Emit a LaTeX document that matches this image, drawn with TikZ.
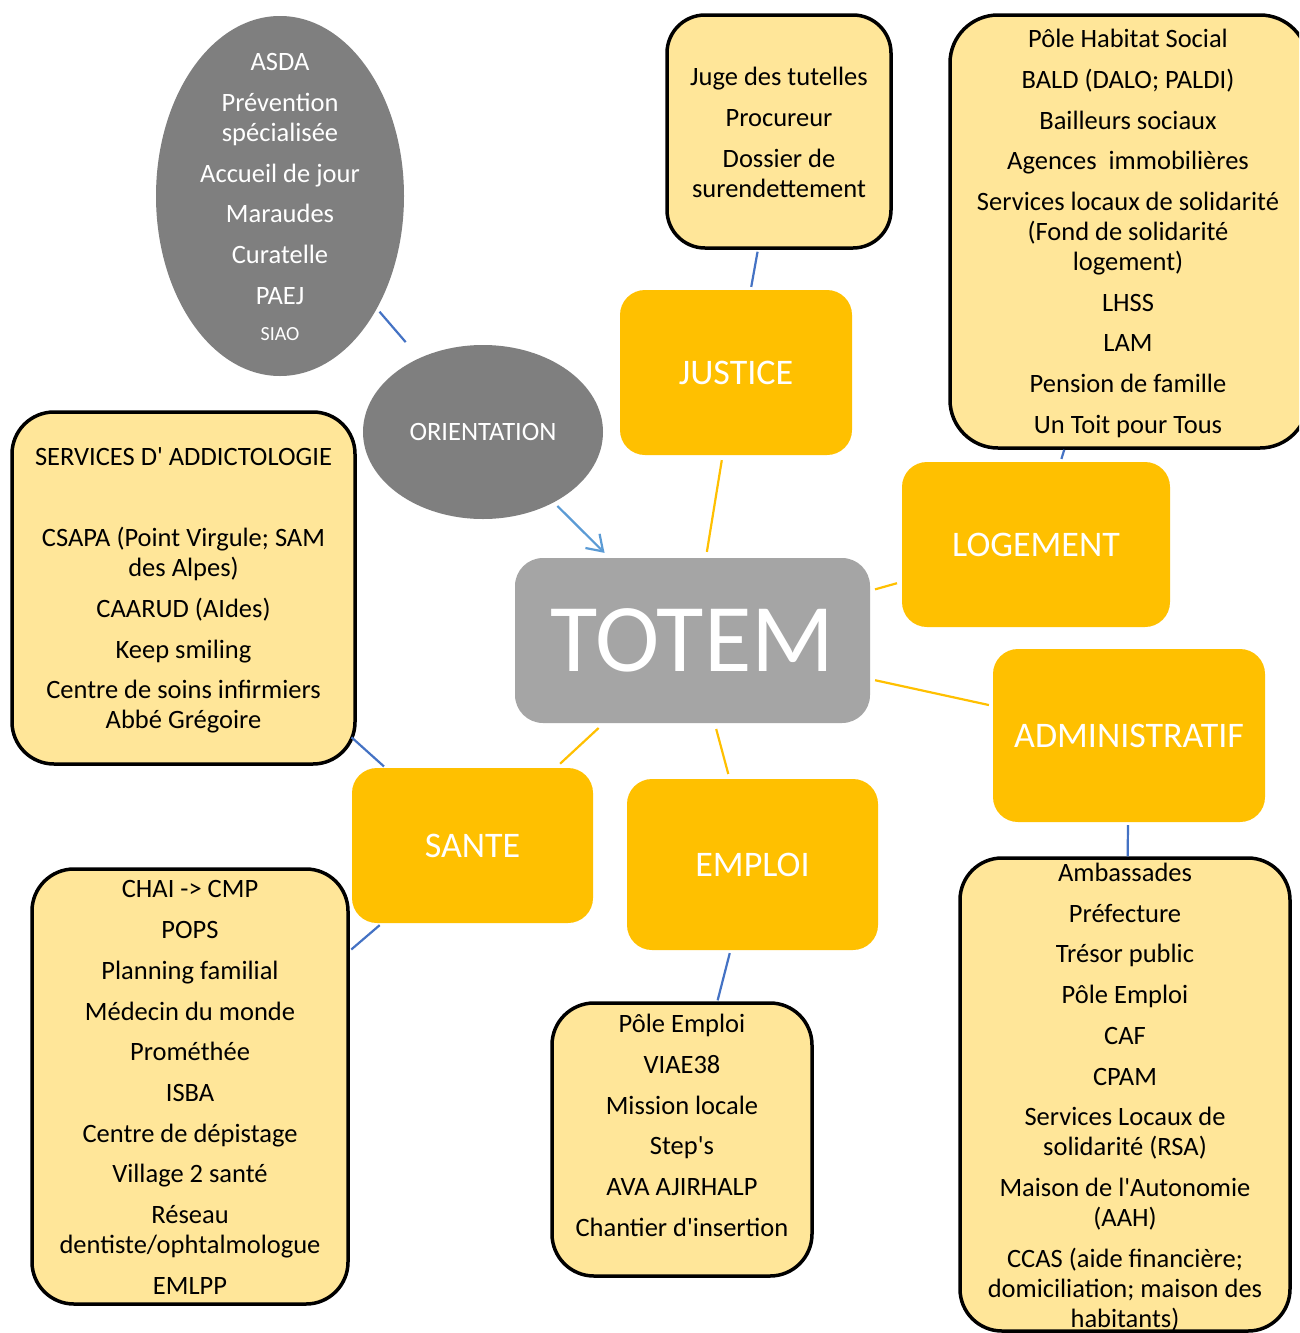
\documentclass[tikz,border=0pt]{standalone}
\usepackage{fontspec}
\setmainfont{Carlito}
\usetikzlibrary{shapes.geometric,arrows.meta}
\definecolor{gold}{HTML}{FFC000}
\definecolor{pale}{HTML}{FFE699}
\definecolor{darkg}{HTML}{7F7F7F}
\definecolor{midg}{HTML}{A5A5A5}
\definecolor{blueln}{HTML}{4472C4}
\definecolor{bluear}{HTML}{5B9BD5}
\newcommand{\ig}{\\[10.7pt]}
\newcommand{\myq}{\textquotesingle}
\begin{document}
\begin{tikzpicture}[x=1pt,y=-1pt,
 cat/.style={rectangle,rounded corners=25pt,fill=gold,inner sep=0pt,text=white,font=\fontsize{36}{40}\selectfont},
 listbox/.style={rectangle,rounded corners=42pt,draw=black,line width=3.5pt,fill=pale,inner sep=0pt},
 listtxt/.style={align=center,inner sep=0pt,font=\fontsize{26.5}{30}\selectfont},
 bl/.style={draw=blueln,line width=2.2pt},
 yl/.style={draw=gold,line width=2.2pt},
 gell/.style={ellipse,fill=darkg,inner sep=0pt},
]
\useasboundingbox (0,0) rectangle (1299,1333);
\clip (0,0) rectangle (1299,1333);
\fill[white] (0,0) rectangle (1299,1333);

% gray ellipses
\node[gell,minimum width=248pt,minimum height=360pt] (ell1) at (280,196) {};
\node[listtxt,text=white] (ell1t) at (280,197) {ASDA\ig Prévention\\spécialisée\ig Accueil de jour\ig Maraudes\ig Curatelle\ig PAEJ\\[6pt]{\fontsize{20}{24}\selectfont SIAO}};
\node[gell,minimum width=240pt,minimum height=174pt,text=white,font=\fontsize{26.5}{30}\selectfont] (orient) at (483,432) {ORIENTATION};

% centre
\node[rectangle,rounded corners=28pt,fill=midg,inner sep=0pt,minimum width=355pt,minimum height=165pt,text=white,font=\fontsize{97}{100}\selectfont] (totem) at (692.5,640.5) {TOTEM};

% categories
\node[cat,minimum width=232pt,minimum height=165pt] (justice) at (736,372.5) {JUSTICE};
\node[cat,minimum width=268pt,minimum height=165pt] (logement) at (1036,544.5) {LOGEMENT};
\node[cat,minimum width=272pt,minimum height=173pt] (admin) at (1129,735.5) {ADMINISTRATIF};
\node[cat,minimum width=241pt,minimum height=155pt] (sante) at (472.5,845.5) {SANTE};
\node[cat,minimum width=251pt,minimum height=171pt] (emploi) at (752.5,864.5) {EMPLOI};

% list boxes
\node[listbox,rounded corners=38pt,minimum width=224pt,minimum height=233pt] (jugebox) at (779,131.5) {};
\node[listtxt] (jugetxt) at (779,132.5) {Juge des tutelles\ig Procureur\ig Dossier de\\surendettement};

\node[listbox,rounded corners=48pt,minimum width=358pt,minimum height=433pt] (habbox) at (1129,231.5) {};
\node[listtxt] (habtxt) at (1128,233.5) {Pôle Habitat Social\ig BALD (DALO; PALDI)\ig Bailleurs sociaux\ig Agences\ \ immobilières\ig Services locaux de solidarité\\(Fond de solidarité\\logement)\ig LHSS\ig LAM\ig Pension de famille\ig Un Toit pour Tous};

\node[listbox,minimum width=343pt,minimum height=352pt] (addbox) at (183.5,588) {};
\node[listtxt] (addtxt) at (183.5,590.5) {SERVICES D\myq{} ADDICTOLOGIE\\[51pt]CSAPA (Point Virgule; SAM\\des Alpes)\ig CAARUD (AIdes)\ig Keep smiling\ig Centre de soins infirmiers\\Abbé Grégoire};

\node[listbox,minimum width=316pt,minimum height=435pt] (santebox) at (190,1086.5) {};
\node[listtxt] (santetxt) at (190,1087.5) {CHAI -> CMP\ig POPS\ig Planning familial\ig Médecin du monde\ig Prométhée\ig ISBA\ig Centre de dépistage\ig Village 2 santé\ig Réseau\\dentiste/ophtalmologue\ig EMLPP};

\node[listbox,minimum width=260pt,minimum height=273pt] (emplbox) at (682,1139.5) {};
\node[listtxt] (empltxt) at (682,1125.5) {Pôle Emploi\ig VIAE38\ig Mission locale\ig Step\myq{}s\ig AVA AJIRHALP\ig Chantier d\myq{}insertion};

\node[listbox,minimum width=330pt,minimum height=473pt] (admbox) at (1125,1094.5) {};
\node[listtxt] (admtxt) at (1125,1097) {Ambassades\ig Préfecture\ig Trésor public\ig Pôle Emploi\ig CAF\ig CPAM\ig Services Locaux de\\solidarité (RSA)\ig Maison de l\myq{}Autonomie\\(AAH)\ig CCAS (aide financière;\\domiciliation; maison des\\habitants)};

% blue connectors
\draw[bl,shorten <=4pt,shorten >=21pt] (ell1) -- (orient);
\draw[draw=bluear,line width=2.2pt,-{Straight Barb[length=15pt,width=20pt]},shorten <=5pt,shorten >=7pt] (orient) -- (totem);
\draw[bl,shorten <=2pt,shorten >=3pt] (jugebox) -- (justice);
\draw[bl,shorten >=3pt] (habbox) -- (logement);
\draw[bl,shorten <=3pt] (admin) -- (admbox);
\draw[bl,shorten <=-7pt,shorten >=2pt] (addbox) -- (sante);
\draw[bl,shorten <=3pt,shorten >=2pt] (sante) -- (santebox);
\draw[bl,shorten <=3pt,shorten >=1pt] (emploi) -- (emplbox);

% yellow connectors
\draw[yl,shorten <=6pt,shorten >=5pt] (totem) -- (justice);
\draw[yl,shorten <=5pt,shorten >=5pt] (totem) -- (logement);
\draw[yl,shorten <=5pt,shorten >=4pt] (totem) -- (admin);
\draw[yl,shorten <=7pt,shorten >=6pt] (totem) -- (sante);
\draw[yl,shorten <=6pt,shorten >=5pt] (totem) -- (emploi);
\end{tikzpicture}
\end{document}
